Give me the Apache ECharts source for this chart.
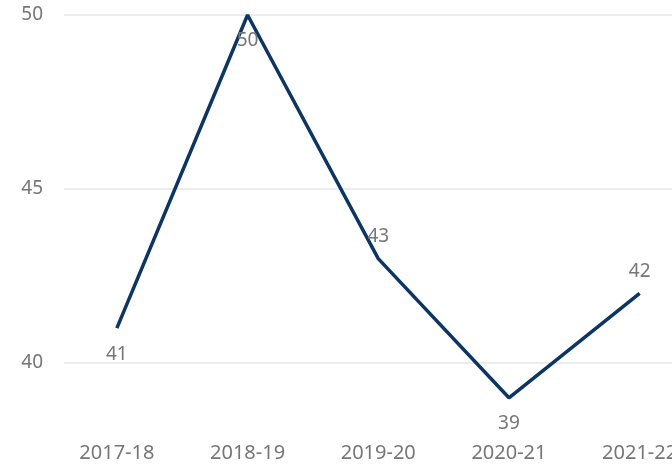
<!DOCTYPE html>
<html><head><meta charset="utf-8">
<script src="https://cdn.jsdelivr.net/npm/echarts@6/dist/echarts.min.js"></script>
<style>html,body{margin:0;padding:0;background:#fff}#c{width:672px;height:467px}</style>
</head><body><div id="c"></div>
<script>
const categories = ['2017-18', '2018-19', '2019-20', '2020-21', '2021-22'];
const values = [41, 50, 43, 39, 42];
const labelPositions = ['bottom', 'bottom', 'top', 'bottom', 'top'];
const yTicks = [35, 40, 45, 50];

const font = 'Noto Sans';
const grey = '#767676';
const yMin = yTicks[0], yMax = yTicks[yTicks.length - 1];
const chart = echarts.init(document.getElementById('c'), null, {renderer: 'canvas'});
chart.setOption({
  animation: false,
  grid: [
    {left: 64, right: 0, top: 15, bottom: -70, outerBoundsMode: 'none', containLabel: false},
    {left: 51.5, right: -33, top: 15, bottom: -70, outerBoundsMode: 'none', containLabel: false}
  ],
  xAxis: [
    {gridIndex: 0, type: 'category', data: categories, show: false},
    {
      gridIndex: 1,
      type: 'category',
      data: categories,
      boundaryGap: true,
      offset: -100,
      axisLine: {show: false},
      axisTick: {show: false},
      splitLine: {show: false},
      axisLabel: {color: grey, fontFamily: font, fontSize: 20, margin: 6, interval: 0}
    }
  ],
  yAxis: [
    {
      gridIndex: 0,
      type: 'value',
      min: yMin, max: yMax, interval: 5,
      axisLine: {show: false},
      axisTick: {show: false},
      axisLabel: {color: grey, fontFamily: font, fontSize: 19, margin: 21},
      splitLine: {lineStyle: {color: '#e6e6e6', width: 1.5}}
    },
    {gridIndex: 1, type: 'value', min: yMin, max: yMax, interval: 5, show: false, splitLine: {show: false}}
  ],
  series: [{
    type: 'line',
    xAxisIndex: 1,
    yAxisIndex: 1,
    data: values.map((v, i) => ({
      value: v,
      label: {position: labelPositions[i], distance: labelPositions[i] === 'top' ? 12 : 16}
    })),
    symbol: 'circle',
    symbolSize: 1,
    showSymbol: true,
    itemStyle: {color: 'rgba(0,0,0,0)'},
    lineStyle: {color: '#0b3566', width: 3.5},
    label: {show: true, color: grey, fontFamily: font, fontSize: 19}
  }]
});
</script></body></html>
